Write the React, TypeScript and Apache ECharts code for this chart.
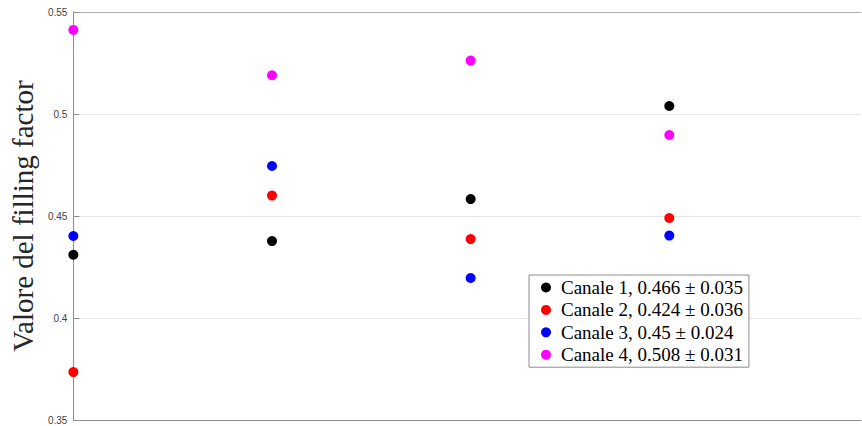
import React, { useEffect, useRef } from "react";
import * as echarts from "echarts";

// Positions along the horizontal axis (one per measurement)
const positions = [1, 2, 3, 4];

// Filling factor per channel
const canale1 = [0.431, 0.4377, 0.4583, 0.5039];
const canale2 = [0.3735, 0.46, 0.4387, 0.449];
const canale3 = [0.4402, 0.4745, 0.4196, 0.4404];
const canale4 = [0.5412, 0.519, 0.5262, 0.4897];

const seriesNames = [
  "Canale 1, 0.466 \u00b1 0.035",
  "Canale 2, 0.424 \u00b1 0.036",
  "Canale 3, 0.45 \u00b1 0.024",
  "Canale 4, 0.508 \u00b1 0.031",
];
const seriesColors = ["#000000", "#ff0000", "#0000ff", "#ff00ff"];
const seriesValues = [canale1, canale2, canale3, canale4];

const yTicks = ["0.35", "0.4", "0.45", "0.5", "0.55"];

export default function App() {
  const ref = useRef<HTMLDivElement>(null);

  useEffect(() => {
    if (!ref.current) return;
    const chart = echarts.init(ref.current, undefined, { renderer: "svg" });
    const axisGrey = "#8c8c8c";
    chart.setOption({
      animation: false,
      backgroundColor: "#ffffff",
      grid: { left: 64, right: 1, top: 12, bottom: 6, containLabel: false },
      xAxis: [
        {
          type: "value",
          min: 1,
          max: 4.965,
          axisLine: { show: true, lineStyle: { color: axisGrey, width: 1 } },
          axisTick: { show: false },
          axisLabel: { show: false },
          splitLine: { show: false },
        },
        {
          type: "value",
          position: "top",
          min: 1,
          max: 4.965,
          axisLine: { show: true, onZero: false, lineStyle: { color: "#b0b0b0", width: 1 } },
          axisTick: { show: false },
          axisLabel: { show: false },
          splitLine: { show: false },
        },
      ],
      yAxis: {
        type: "value",
        min: 0.35,
        max: 0.55,
        interval: 0.05,
        name: "Valore del filling factor",
        nameLocation: "middle",
        nameRotate: 90,
        nameGap: 29,
        nameTextStyle: {
          fontFamily: "Liberation Serif",
          fontSize: 29,
          color: "#262626",
        },
        axisLine: { show: true, lineStyle: { color: axisGrey, width: 1 } },
        axisTick: { show: true, inside: true, length: 6, lineStyle: { color: axisGrey } },
        axisLabel: {
          fontFamily: "Liberation Sans",
          fontSize: 10,
          color: "#404040",
          margin: 6,
          formatter: (v: number) => {
            const i = Math.round((v - 0.35) / 0.05);
            return yTicks[i] ?? "";
          },
        },
        splitLine: { show: true, lineStyle: { color: "#e6e6e6", width: 1 } },
      },
      legend: {
        show: true,
        orient: "vertical",
        left: 529,
        top: 275,
        padding: [3, 6, 3, 12],
        itemGap: 3.4,
        itemWidth: 10,
        itemHeight: 10,
        icon: "circle",
        backgroundColor: "#ffffff",
        borderColor: "#8c8c8c",
        borderWidth: 1,
        borderRadius: 0,
        textStyle: {
          fontFamily: "Liberation Serif",
          fontSize: 19,
          lineHeight: 17,
          color: "#000000",
          padding: [0, 0, 0, 5],
        },
        data: seriesNames,
      },
      series: seriesValues.map((vals, k) => ({
        type: "scatter",
        name: seriesNames[k],
        symbol: "circle",
        symbolSize: 10,
        itemStyle: { color: seriesColors[k], opacity: 1 },
        data: positions.map((p, i) => [p, vals[i]]),
      })),
    });
    return () => chart.dispose();
  }, []);

  return <div ref={ref} style={{ width: 862, height: 426, position: "absolute", left: 0, top: 0 }} />;
}
